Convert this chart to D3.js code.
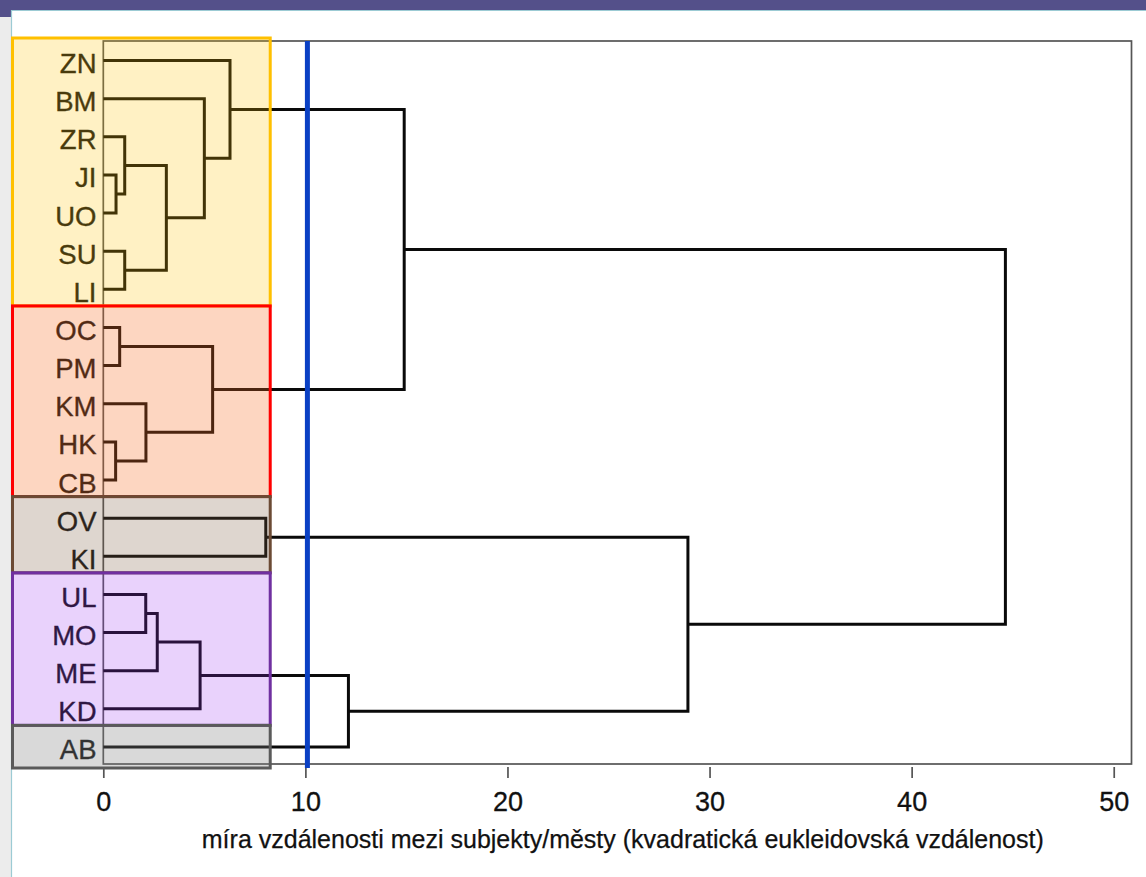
<!DOCTYPE html>
<html>
<head>
<meta charset="utf-8">
<script src="https://cdn.jsdelivr.net/npm/d3@7"></script>
<style>
  html, body { margin: 0; padding: 0; background: #ffffff; }
  svg { display: block; font-family: 'Liberation Sans', Arial, Helvetica, sans-serif; }
</style>
</head>
<body>
<svg id="chart" width="1146" height="877"></svg>
<script>
// ---------- DATA ----------
const leaves = ["ZN","BM","ZR","JI","UO","SU","LI","OC","PM","KM","HK","CB","OV","KI","UL","MO","ME","KD","AB"];

// agglomeration schedule (cluster id, left child, right child, merge distance)
const clusterIds  = ["c1","c2","c3","c4","c5","c6","c7","c8","c9","c10","c11","c12","c13","c14","c15","c16","c17","c18"];
const leftChild   = ["JI","ZR","SU","c2","BM","ZN","OC","HK","KM","c7","c6","OV","UL","c13","c14","c15","c12","c11"];
const rightChild  = ["UO","c1","LI","c3","c4","c5","PM","CB","c8","c9","c10","KI","MO","ME","KD","AB","c16","c17"];
const mergeHeight = [0.63, 1.06, 1.06, 3.12, 5.00, 6.27, 0.81, 0.61, 2.11, 5.41, 14.89, 8.04, 2.10, 2.67, 4.79, 12.13, 28.93, 44.64];

const tickValues = [0, 10, 20, 30, 40, 50];
const cutDistance = 10.1;
const axisTitle = "míra vzdálenosti mezi subjekty/městy (kvadratická eukleidovská vzdálenost)";

// highlighted clusters (first leaf, last leaf)
const groupFirst = ["ZN","OC","OV","UL","AB"];
const groupLast  = ["LI","CB","KI","KD","AB"];
const groupStroke = ["#ffc000","#ff0000","#6b4a34","#7030a0","#5a5a5a"];
const groupFill   = ["#ffc400","#f86a20","#7a5a40","#9a30f0","#808080"];
const groupFillOpacity = [0.23, 0.28, 0.25, 0.22, 0.30];

// ---------- LAYOUT ----------
const svg = d3.select("#chart");
const W = 1146, H = 877;
const plotTop = 41, plotBottom = 764;

const x = d3.scaleLinear().domain([0, 50.88]).range([103.3, 1131.5]);
const y = d3.scalePoint().domain(leaves).range([41.5, 766]).padding(0.5);
const step = y.step();

// ---------- page decoration ----------
svg.append("rect").attr("x", 0).attr("y", 0).attr("width", W).attr("height", H).attr("fill", "#ffffff");
svg.append("rect").attr("x", 0).attr("y", 17).attr("width", 11).attr("height", H - 17).attr("fill", "#ececec");
svg.append("rect").attr("x", 0).attr("y", 0).attr("width", W).attr("height", 10).attr("fill", "#54508a");
svg.append("rect").attr("x", 0).attr("y", 0).attr("width", 11).attr("height", 17).attr("fill", "#54508a");
svg.append("line").attr("x1", 11).attr("x2", W).attr("y1", 10.5).attr("y2", 10.5).attr("stroke", "#9ccbd4").attr("stroke-width", 1.2);
svg.append("line").attr("x1", 11.5).attr("x2", 11.5).attr("y1", 10).attr("y2", H).attr("stroke", "#9ccbd4").attr("stroke-width", 1.2);

// ---------- frame ----------
const g = svg.append("g");
g.append("rect")
  .attr("x", x(0)).attr("y", plotTop)
  .attr("width", x.range()[1] - x(0)).attr("height", plotBottom - plotTop)
  .attr("fill", "none").attr("stroke", "#555555").attr("stroke-width", 1.7);

// ---------- x axis ----------
const axis = d3.axisBottom(x).tickValues(tickValues).tickSizeInner(11).tickSizeOuter(0).tickPadding(14)
  .tickFormat(d3.format("d"));
const ax = g.append("g").attr("transform", `translate(0,${plotBottom + 3})`).call(axis);
ax.select(".domain").remove();
ax.selectAll(".tick line").attr("stroke", "#555555").attr("stroke-width", 1.7);
ax.selectAll(".tick text").attr("fill", "#111111").attr("stroke", "#111111").attr("stroke-width", 0.3)
  .style("font-size", "27px");

g.append("text")
  .attr("x", 622.8).attr("y", 848)
  .attr("text-anchor", "middle")
  .attr("fill", "#111111").attr("stroke", "#111111").attr("stroke-width", 0.25)
  .style("font-size", "25px")
  .text(axisTitle);

// ---------- dendrogram ----------
const nodes = {};
leaves.forEach(l => { nodes[l] = { id: l, h: 0, y: y(l) }; });
clusterIds.forEach((id, i) => {
  const a = nodes[leftChild[i]], b = nodes[rightChild[i]];
  nodes[id] = { id, h: mergeHeight[i], y: (a.y + b.y) / 2, a, b };
});

const links = clusterIds.map(id => nodes[id]);
g.append("g").selectAll("path")
  .data(links)
  .join("path")
  .attr("fill", "none")
  .attr("stroke", "#0a0a0a")
  .attr("stroke-width", 3)
  .attr("stroke-linejoin", "miter")
  .attr("d", n => `M${x(n.a.h)},${n.a.y}H${x(n.h)}V${n.b.y}H${x(n.b.h)}`);

// leaf labels
g.append("g").selectAll("text")
  .data(leaves)
  .join("text")
  .attr("x", 96.5)
  .attr("y", d => y(d) + 12.5)
  .attr("text-anchor", "end")
  .attr("fill", "#111111").attr("stroke", "#111111").attr("stroke-width", 0.35)
  .style("font-size", "27.5px")
  .text(d => d);

// ---------- highlighted cluster boxes ----------
const boxLeft = 12.5, boxRight = x(8.26);
const bounds = groupFirst.map((f, i) => ({ i, first: f, last: groupLast[i] }));
const edges = [y(groupFirst[0]) - step * 0.5 - 3.5];
for (let i = 0; i < groupFirst.length - 1; i++) {
  edges.push((y(groupLast[i]) + y(groupFirst[i + 1])) / 2 - 2.5);
}
edges.push(y(groupLast[groupLast.length - 1]) + step * 0.5 + 2);

g.append("g").selectAll("rect")
  .data(bounds)
  .join("rect")
  .attr("x", boxLeft)
  .attr("y", d => edges[d.i])
  .attr("width", boxRight - boxLeft)
  .attr("height", d => edges[d.i + 1] - edges[d.i])
  .attr("fill", d => groupFill[d.i])
  .attr("fill-opacity", d => groupFillOpacity[d.i])
  .attr("stroke", d => groupStroke[d.i])
  .attr("stroke-width", 3);

// ---------- cut line ----------
g.append("line")
  .attr("x1", x(cutDistance)).attr("x2", x(cutDistance))
  .attr("y1", plotTop).attr("y2", plotBottom + 4)
  .attr("stroke", "#0a40c4")
  .attr("stroke-width", 5);
</script>
</body>
</html>
